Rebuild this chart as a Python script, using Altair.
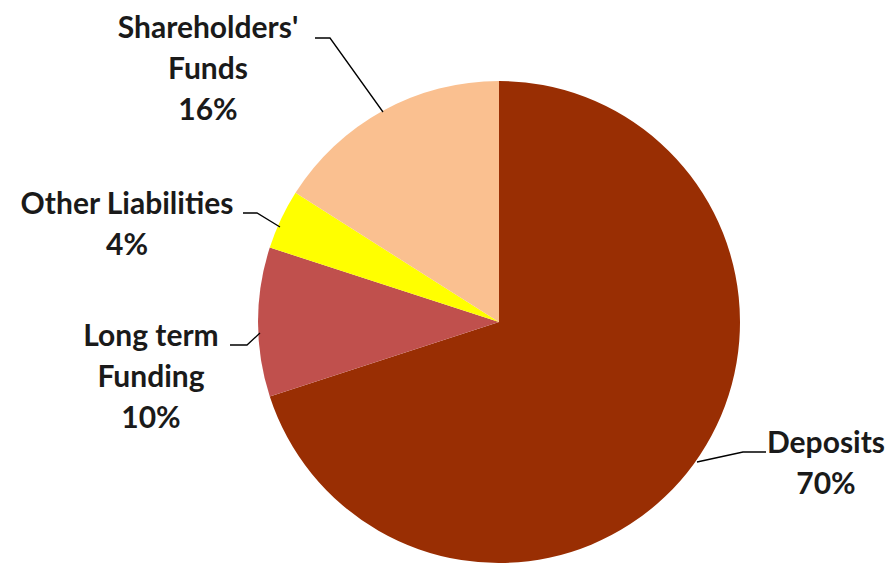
import altair as alt
import pandas as pd

# ---- data ----
categories = ["Deposits", "Long term Funding", "Other Liabilities", "Shareholders' Funds"]
shares = [70, 10, 4, 16]
colors = ["#992E03", "#C0504D", "#FFFF00", "#FAC090"]

label_lines = {
    "Deposits": ["Deposits", "70%"],
    "Long term Funding": ["Long term", "Funding", "10%"],
    "Other Liabilities": ["Other Liabilities", "4%"],
    "Shareholders' Funds": ["Shareholders'", "Funds", "16%"],
}

# ---- layout (pixels within chart, origin at page (8,8)) ----
OFF = 8
CX, CY, R = 499 - OFF, 322 - OFF, 241
label_anchor = {  # centre x, y of first line (page coords)
    "Deposits": (826, 444),
    "Long term Funding": (151, 337),
    "Other Liabilities": (127, 205),
    "Shareholders' Funds": (208, 29),
}
LINE_H = 41
leaders = {
    "Deposits": [(697, 462), (743, 452), (766, 452)],
    "Long term Funding": [(230, 345), (247, 345), (260, 333)],
    "Other Liabilities": [(243, 213), (257, 213), (280, 227)],
    "Shareholders' Funds": [(315, 38), (330, 38), (383, 112)],
}

pie_df = pd.DataFrame({"cat": categories, "share": shares, "ord": list(range(len(categories)))})

txt_rows = []
for c in categories:
    ax, ay = label_anchor[c]
    for i, t in enumerate(label_lines[c]):
        txt_rows.append({"t": t, "x": ax - OFF, "y": ay - OFF + i * LINE_H})
txt_df = pd.DataFrame(txt_rows)

ln_rows = []
for c in categories:
    for i, (px, py) in enumerate(leaders[c]):
        ln_rows.append({"cat": c, "seq": i, "x": px - OFF, "y": py - OFF})
ln_df = pd.DataFrame(ln_rows)

pie = alt.Chart(pie_df).mark_arc(outerRadius=R, strokeWidth=0).encode(
    theta=alt.Theta("share:Q", stack=True),
    order=alt.Order("ord:Q"),
    color=alt.Color("cat:N", scale=alt.Scale(domain=categories, range=colors), legend=None),
    x=alt.value(CX),
    y=alt.value(CY),
)

lines = alt.Chart(ln_df).mark_line(color="#000000", strokeWidth=1.3).encode(
    x=alt.X("x:Q", scale=None),
    y=alt.Y("y:Q", scale=None),
    detail="cat:N",
    order="seq:Q",
)

texts = alt.Chart(txt_df).mark_text(
    font="Lato", fontSize=30, fontWeight="bold", color="#1a1a1a",
    align="center", baseline="middle"
).encode(
    x=alt.X("x:Q", scale=None),
    y=alt.Y("y:Q", scale=None),
    text="t:N",
)

chart = alt.layer(pie, lines, texts).properties(
    width=878, height=555, autosize="none", padding=0, background="white"
).configure_view(strokeWidth=0, stroke="transparent")

chart.save("out.html", embed_options={"renderer": "svg", "actions": False})
